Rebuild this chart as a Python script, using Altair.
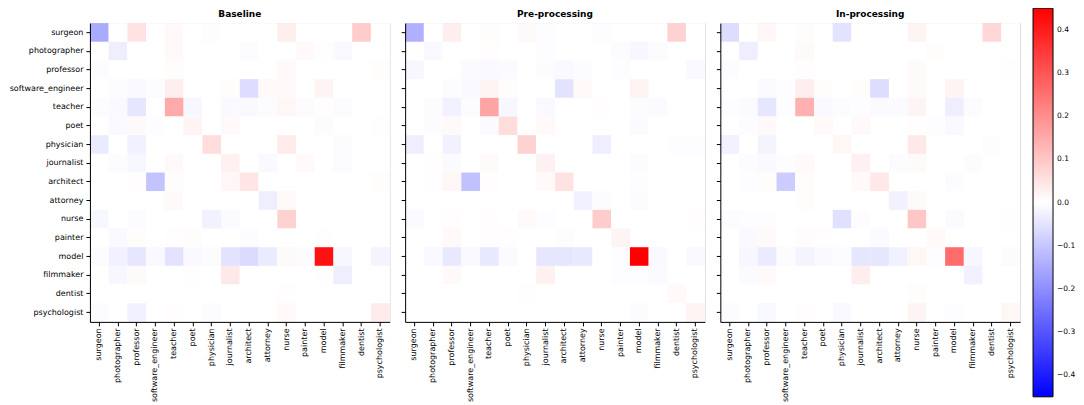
import altair as alt
import pandas as pd

occupations = ["surgeon", "photographer", "professor", "software_engineer", "teacher", "poet",
               "physician", "journalist", "architect", "attorney", "nurse", "painter", "model",
               "filmmaker", "dentist", "psychologist"]

panel_titles = ["Baseline", "Pre-processing", "In-processing"]

baseline = [
    [-0.15, 0, 0.05, 0, 0.01, 0, 0.005, 0, 0, 0, 0.03, 0, 0, 0, 0.09, 0],
    [0, -0.03, 0, 0, 0.01, 0, 0, 0, -0.005, 0, 0, 0.01, 0.003, -0.01, 0, 0],
    [-0.005, 0, 0, 0, 0.005, 0, 0, 0, 0, 0, 0.01, 0, 0, 0, 0, 0.005],
    [0, -0.005, -0.01, -0.005, 0.03, 0, 0, 0.005, -0.06, 0.01, 0.01, 0, 0.02, 0, 0, 0],
    [-0.005, -0.01, -0.045, 0, 0.15, -0.015, 0, -0.01, -0.01, -0.005, 0.015, -0.005, 0.003, -0.005, 0, 0],
    [0, -0.01, 0.01, -0.003, 0, 0.02, 0, 0.01, 0, 0, 0, 0, -0.005, 0, 0, 0.003],
    [-0.035, 0, -0.025, 0, 0, 0, 0.06, 0, 0, 0, 0.035, 0, 0, -0.005, 0, 0],
    [0, -0.005, -0.015, 0, 0.01, 0, 0, 0.025, 0, -0.01, 0, 0.01, 0, -0.005, 0, 0],
    [0, 0, 0.003, -0.105, 0.005, 0, 0, 0.015, 0.045, 0, 0, 0, 0, 0, 0, 0.005],
    [0, 0, 0, 0, 0.008, 0, 0, 0, 0, -0.03, 0.008, 0, 0, 0, 0, 0],
    [-0.015, 0, -0.005, 0, 0, 0, -0.025, -0.008, 0, 0, 0.08, 0, 0, 0, 0, 0],
    [0, -0.01, 0.005, 0, 0.003, 0.005, 0, 0, -0.005, 0, 0, 0, 0.003, 0, 0, 0],
    [-0.005, -0.025, -0.045, -0.01, -0.05, -0.01, -0.005, -0.05, -0.065, -0.035, 0.008, -0.005, 0.42, -0.015, 0, -0.02],
    [0, -0.015, 0.008, 0, 0, 0.003, 0, 0.04, 0, 0, 0, 0, 0.003, -0.03, 0, 0],
    [0, 0, 0, 0, 0, 0, 0, 0, 0, 0, 0.003, 0, 0, 0, 0, 0],
    [-0.005, 0, -0.025, 0, 0.003, 0, -0.005, 0, 0, 0, 0.01, 0, 0, 0, 0, 0.035],
]

pre_processing = [
    [-0.14, 0, 0.03, 0, 0.005, 0, 0.008, -0.003, 0, 0, -0.003, 0, 0, 0, 0.08, 0],
    [0, -0.01, 0, 0, 0.003, 0, 0, -0.003, 0, 0, 0, -0.005, -0.015, -0.005, 0, 0],
    [-0.015, 0, 0, -0.008, -0.01, -0.008, 0, -0.005, -0.01, -0.005, 0, -0.003, 0, 0, 0, -0.01],
    [0, 0, -0.005, -0.01, 0.02, 0.005, 0, 0, -0.05, 0.008, 0, 0, 0.02, 0, 0, 0],
    [0, -0.005, -0.025, -0.005, 0.16, -0.015, 0, -0.01, 0, 0, 0.003, 0, -0.005, -0.008, 0, 0],
    [0, -0.005, 0.01, 0, -0.008, 0.06, 0, 0.01, 0, 0, 0, 0, -0.008, 0, 0, 0],
    [-0.03, 0, -0.025, 0, 0, 0, 0.08, 0, 0, 0, -0.03, 0, 0, 0, -0.003, -0.003],
    [0, 0.003, -0.008, 0, 0.008, 0, 0, 0.025, 0, 0, 0, 0, -0.005, 0, 0, 0],
    [0, 0.003, 0.015, -0.11, 0.003, 0, 0, 0.01, 0.05, 0, 0, 0, -0.003, 0, 0, 0],
    [0, 0, 0, 0, 0, 0, 0, 0, 0, -0.025, -0.005, 0, -0.005, 0, 0, 0],
    [-0.008, 0, 0.003, 0, 0.003, 0, 0.008, -0.003, 0, 0, 0.09, 0, 0, 0, 0, 0.003],
    [0, 0, 0.01, 0, 0.003, 0.003, 0, 0, -0.003, 0, 0, 0.02, 0, 0, 0, 0],
    [0, -0.01, -0.04, -0.01, -0.04, -0.008, 0, -0.045, -0.045, -0.04, 0, -0.003, 0.45, -0.01, 0, -0.01],
    [0, 0, 0.01, 0, 0, 0, 0, 0.025, 0, 0, 0, -0.003, -0.003, -0.008, 0, 0],
    [0, 0, 0, 0, 0, 0, 0.003, 0, 0, 0, 0, 0, 0, 0, 0.01, 0],
    [0, 0, 0, 0, 0, 0, 0, 0, 0, 0, 0, 0, -0.005, 0, 0, 0.02],
]

in_processing = [
    [-0.06, 0, 0.015, 0, 0.005, 0, -0.05, 0, 0, 0, 0.02, 0, 0, 0, 0.07, 0],
    [0, -0.03, 0, 0, 0.008, 0, 0, 0, 0, 0, 0, 0.005, 0, 0, 0, 0],
    [-0.005, 0, 0, 0, 0.003, 0, 0, 0, 0, 0, 0.008, 0, 0, 0, 0, 0.003],
    [0, 0, -0.008, -0.003, 0.03, 0.005, 0, 0.005, -0.06, 0, 0.008, 0, 0.02, 0, 0, 0],
    [-0.003, -0.008, -0.045, -0.003, 0.14, -0.01, -0.005, -0.003, -0.008, -0.008, 0.02, 0, -0.03, -0.005, 0, 0],
    [0, -0.005, 0.01, 0, 0, 0.01, 0, 0.01, 0, 0, 0.003, -0.003, -0.01, 0, 0, 0],
    [-0.025, 0, -0.02, 0, 0, 0, 0.015, 0, 0, 0, 0.04, 0, 0, 0, -0.003, 0],
    [0, -0.005, -0.01, -0.003, 0.01, 0, 0, 0.025, 0, -0.005, 0.008, 0, 0, -0.005, 0, 0],
    [0, -0.003, 0.005, -0.09, 0.005, 0, 0, 0.01, 0.04, 0, 0, 0, -0.005, 0, 0, 0],
    [0, 0, 0, 0, 0.005, 0, 0, 0, 0, -0.025, 0.008, 0, 0, 0, 0, 0],
    [-0.005, -0.003, -0.003, 0, 0, 0, -0.055, -0.003, 0, 0, 0.1, 0, -0.008, 0, 0, 0.003],
    [0, -0.01, 0.008, 0, 0.005, 0.003, 0, 0, -0.008, 0, 0, 0.01, 0, 0, 0, 0],
    [0, -0.015, -0.035, -0.005, -0.02, -0.01, -0.005, -0.045, -0.045, -0.025, 0.015, -0.003, 0.26, -0.015, 0, -0.005],
    [0, -0.008, 0.008, 0, 0, 0, 0, 0.03, 0, 0, 0, 0, 0, -0.025, 0, 0],
    [0, 0, 0, 0, 0, 0, 0, 0, 0, 0, 0.005, 0, 0, 0, 0, 0],
    [-0.005, 0, -0.012, 0, 0.003, 0, -0.01, 0, 0, 0, 0.02, 0, -0.003, 0, 0, 0.015],
]

colorbar_ticks = [-0.4, -0.3, -0.2, -0.1, 0.0, 0.1, 0.2, 0.3, 0.4]

FONT = "DejaVu Sans"

color_scale = alt.Scale(domain=[-0.45, 0, 0.45], range=["#0000ff", "#ffffff", "#ff0000"],
                        interpolate="rgb", clamp=True)


def to_frame(matrix):
    recs = []
    for i, r in enumerate(occupations):
        for j, c in enumerate(occupations):
            recs.append({"row": r, "col": c, "value": matrix[i][j]})
    return pd.DataFrame(recs)


def panel(matrix, title, show_ylabels, show_legend):
    legend = None
    if show_legend:
        legend = alt.Legend(orient="none", legendX=944, legendY=-15, direction="vertical",
                            gradientLength=389, gradientThickness=20, title=None,
                            values=colorbar_ticks, format=".1f", labelFontSize=7.5,
                            labelFont=FONT, labelColor="#000000", gradientStrokeColor="#000000",
                            gradientStrokeWidth=1, labelOffset=4, padding=0)
    return alt.Chart(to_frame(matrix)).mark_rect().encode(
        x=alt.X("col:N", sort=occupations, title=None,
                axis=alt.Axis(labelAngle=270, labelFontSize=8, labelFont=FONT,
                              labelColor="#000000", tickColor="#000000", tickSize=4,
                              domainColor="#000000", labelPadding=2)),
        y=alt.Y("row:N", sort=occupations, title=None,
                axis=alt.Axis(labels=show_ylabels, labelFontSize=8, labelFont=FONT,
                              labelColor="#000000", tickColor="#000000", tickSize=4,
                              domainColor="#000000", labelPadding=3, labelLimit=200)),
        color=alt.Color("value:Q", scale=color_scale, legend=legend),
    ).properties(
        width=300, height=299,
        title=alt.TitleParams(title, fontSize=9, font=FONT, fontWeight="bold", offset=4,
                              color="#000000"),
    )


charts = [
    panel(baseline, panel_titles[0], True, True),
    panel(pre_processing, panel_titles[1], False, False),
    panel(in_processing, panel_titles[2], False, False),
]

chart = alt.hconcat(*charts, spacing=15.5, bounds="flush").resolve_scale(
    color="shared").properties(
    padding={"top": 0, "left": 0, "right": 0, "bottom": -1}).configure_view(
    stroke="#000000", strokeWidth=1).configure(background="white")

chart.save("out.html", embed_options={"renderer": "svg", "actions": False})
